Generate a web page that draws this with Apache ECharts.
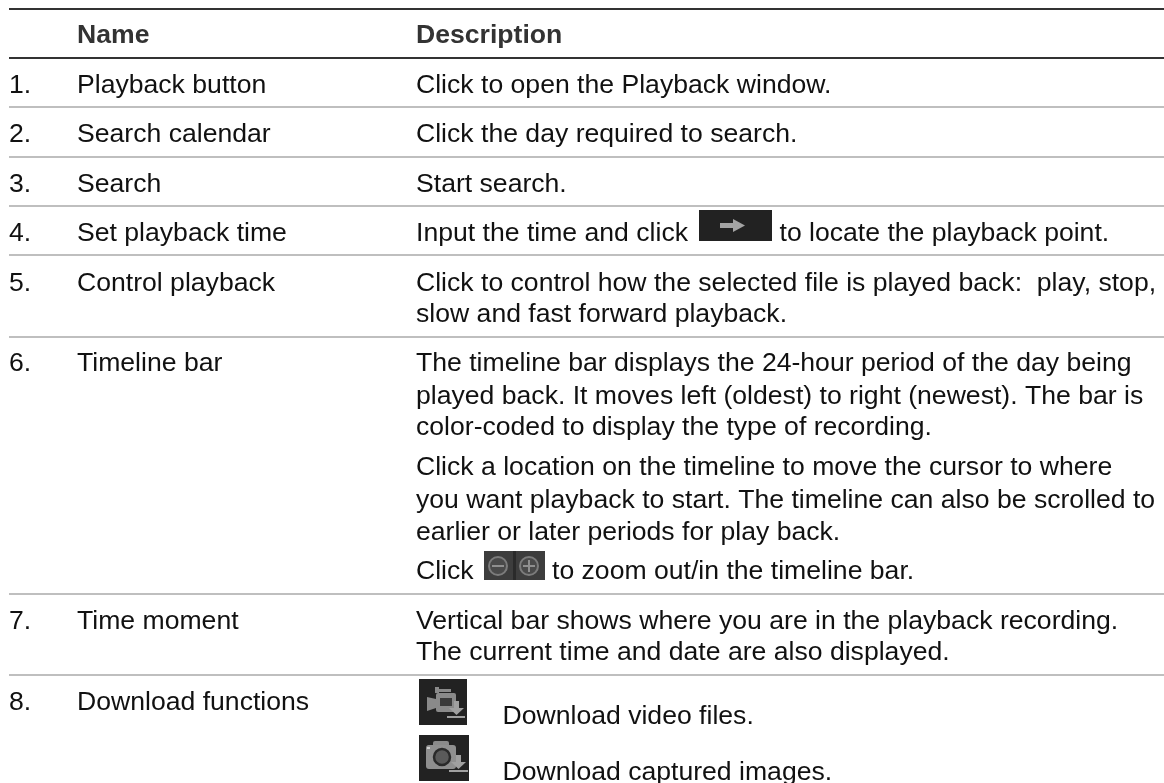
<!DOCTYPE html>
<html><head><meta charset="utf-8">
<style>html,body{margin:0;padding:0;background:#fff}#c{width:1164px;height:783px}</style>
<script src="https://cdn.jsdelivr.net/npm/echarts@6/dist/echarts.min.js"></script></head>
<body><div id="c"></div>
<script>
const headers = ['Name', 'Description'];
const numbers = ['1.','2.','3.','4.','5.','6.','7.','8.'];
const names = ['Playback button','Search calendar','Search','Set playback time','Control playback','Timeline bar','Time moment','Download functions'];
const descriptions = [
 'Click to open the Playback window.',
 'Click the day required to search.',
 'Start search.',
 'Input the time and click',
 'to locate the playback point.',
 'Click to control how the selected file is played back:  play, stop,',
 'slow and fast forward playback.',
 'The timeline bar displays the 24-hour period of the day being',
 'played back. It moves left (oldest) to right (newest). The bar is',
 'color-coded to display the type of recording.',
 'Click a location on the timeline to move the cursor to where',
 'you want playback to start. The timeline can also be scrolled to',
 'earlier or later periods for play back.',
 'Click',
 'to zoom out/in the timeline bar.',
 'Vertical bar shows where you are in the playback recording.',
 'The current time and date are also displayed.',
 'Download video files.',
 'Download captured images.'
];
// layout (kept apart from the text)
const rowBase = [92.7,141.7,191,240,290,370.7,628,709.7];
const descX = [416,416,416,416,779.5,416,416,416,416,416,416,416,416,416,552,416,416,502.5,502.5];
const descBase = [92.7,141.7,191,240,240,290,321.7,370.7,403,434.7,474.7,507,539,578.7,578.7,628,659.7,723.7,779.7];
const greyRules = [106,156,205,254,336,593,674];
const darkRules = [8,57];

const chart = echarts.init(document.getElementById('c'), null, {renderer:'canvas'});
const SIZE = 26.6, FAMILY = '"Liberation Sans"';
const OFFSET = 0.35*SIZE-2.5;
const g = [];
const T = (x,b,s,bold)=>g.push({type:'text',style:{x,y:b-OFFSET,text:s,fill:bold?'#333333':'#111111',
  font:(bold?'bold ':'')+SIZE+'px '+FAMILY,verticalAlign:'middle',align:'left'}});
const R = (x,y,w,h,c,r)=>g.push({type:'rect',shape:{x,y,width:w,height:h,r:r||0},style:{fill:c}});
const P = (pts,c)=>g.push({type:'polygon',shape:{points:pts},style:{fill:c}});
const C = (cx,cy,r,fill,stroke,lw)=>g.push({type:'circle',shape:{cx,cy,r},style:{fill:fill||'transparent',stroke:stroke||null,lineWidth:lw||1}});

darkRules.forEach(y=>R(9,y,1155,2,'#333333'));
greyRules.forEach(y=>R(9,y,1155,2,'#bfbfbf'));
T(77,42.3,headers[0],true);T(416,42.3,headers[1],true);
numbers.forEach((n,i)=>{T(9,rowBase[i],n);T(77,rowBase[i],names[i]);});
descriptions.forEach((s,i)=>T(descX[i],descBase[i],s));

// arrow button
R(699,210,73,31,'#222222');
P([[720,223],[733,223],[733,219],[745,225.5],[733,232],[733,228],[720,228]],'#a3a3a3');
// zoom out/in icons
R(484,551,61,29,'#3d3d3d');
R(513,551,3,29,'#2a2a2a');
C(498,566,9,'#4a4a4a','#7c7c7c',2);
C(529,566,9,'#4a4a4a','#7c7c7c',2);
R(492,565,12,2,'#8f8f8f');
R(523,565,12,2,'#8f8f8f');R(528,560,2,12,'#8f8f8f');
// video download icon
R(419,679,48,46,'#222222');
R(435,687,4,6,'#8a8a8a');R(435,689,16,3,'#8a8a8a');
R(436,693,20,19,'#8a8a8a',2);
R(440,698,12,8,'#3a3a3a');
P([[427,697],[436,699],[436,708],[427,711]],'#8a8a8a');
R(454,701,5,8,'#a0a0a0');
P([[449,708],[464,708],[456.5,715]],'#a0a0a0');
R(447,716,18,2,'#a0a0a0');
// image download icon
R(419,735,50,46,'#222222');
R(433,741,16,6,'#8a8a8a',2);
R(426,745,30,24,'#8f8f8f',3);
C(442,757,8,'#5a5a5a','#2a2a2a',2.5);
R(427,747,3,2,'#cfcfcf');
R(456,755,5,8,'#a0a0a0');
P([[451,762],[466,762],[458.5,769]],'#a0a0a0');
R(449,770,19,2,'#a0a0a0');

chart.setOption({animation:false,graphic:{elements:g}});
</script></body></html>
